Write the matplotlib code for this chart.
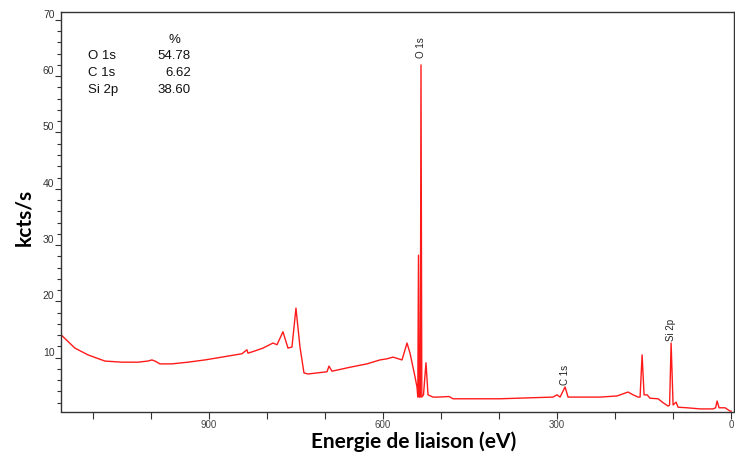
import matplotlib
matplotlib.use("Agg")
import matplotlib.pyplot as plt
from matplotlib.ticker import MultipleLocator, FixedLocator

# Binding energy (eV) and intensity (kcts/s)
energy = [1154.3, 1131.0, 1108.6, 1079.3, 1050.0, 1022.4, 1005.2, 998.3, 993.1, 984.5,
          963.8, 936.2, 906.9, 877.6, 843.1, 834.5, 832.7, 820.7, 806.9, 789.6,
          782.7, 772.4, 763.8, 756.9, 750.0, 743.1, 736.2, 729.3, 696.5, 693.1,
          687.9, 656.9, 627.6, 605.2, 593.1, 582.7, 567.2, 558.6, 553.4, 548.3,
          544.8, 541.4, 540.0, 538.8, 537.4, 535.7, 534.5, 533.1, 530.2, 525.9,
          522.4, 513.8, 505.2, 486.2, 479.3, 398.3, 306.9, 300.0, 294.8, 286.2,
          281.0, 225.9, 196.6, 177.6, 169.0, 160.3, 156.9, 153.4, 150.0, 144.8,
          139.7, 125.9, 117.2, 108.6, 106.0, 103.4, 100.0, 94.8, 91.4, 75.9,
          53.4, 31.0, 26.7, 24.1, 20.7, 10.3, 1.7, 0.0]
kcts = [14.0, 11.7, 10.5, 9.4, 9.2, 9.2, 9.4, 9.6, 9.4, 8.9,
        8.9, 9.2, 9.6, 10.1, 10.7, 11.4, 10.8, 11.2, 11.7, 12.6,
        12.3, 14.6, 11.7, 11.9, 18.8, 11.9, 7.3, 7.1, 7.5, 8.5,
        7.6, 8.3, 8.9, 9.6, 9.8, 10.1, 9.6, 12.6, 10.8, 8.3,
        6.6, 4.8, 3.0, 28.2, 3.0, 3.0, 62.0, 3.0, 3.4, 9.1,
        3.4, 3.0, 3.0, 3.1, 2.7, 2.7, 3.0, 3.4, 3.0, 4.8,
        3.0, 3.0, 3.2, 3.9, 3.4, 3.0, 3.0, 10.5, 3.4, 3.4,
        2.8, 2.7, 2.0, 1.4, 1.6, 12.6, 1.6, 2.1, 1.2, 1.1,
        0.9, 0.9, 1.1, 2.3, 1.1, 1.1, 0.5, 0.5]

peak_names = ["O 1s", "C 1s", "Si 2p"]
peak_energy = [534.5, 286.2, 103.4]
peak_label_y = [63.3, 5.2, 13.0]
atomic_pct = ["54.78", "6.62", "38.60"]

x_ticks = [900, 600, 300, 0]
y_ticks = [10, 20, 30, 40, 50, 60, 70]

fig = plt.figure(figsize=(7.35, 4.54), dpi=100)
ax = fig.add_axes([61.4 / 735, 1 - 411.5 / 454, (734 - 61.4) / 735, (411.5 - 12) / 454])

ax.plot(energy, kcts, color="#ff1a1a", lw=1.0)
ax.set_xlim(1154.3, -5)
ax.set_ylim(0.44, 71.4)

ax.xaxis.set_major_locator(FixedLocator(x_ticks))
ax.xaxis.set_minor_locator(MultipleLocator(100))
ax.yaxis.set_major_locator(FixedLocator(y_ticks))
ax.yaxis.set_minor_locator(MultipleLocator(2))
ax.tick_params(axis="both", which="both", direction="out", color="#333333", width=0.8)
ax.tick_params(axis="x", which="major", length=5, labelsize=7, labelcolor="#444444", pad=1)
ax.tick_params(axis="x", which="minor", length=5)
ax.tick_params(axis="y", which="major", length=4, labelsize=7.5, labelcolor="#333333", pad=1)
ax.tick_params(axis="y", which="minor", length=3)
for lab in ax.get_xticklabels() + ax.get_yticklabels():
    lab.set_fontfamily("Liberation Sans")
for lab in ax.get_yticklabels():
    lab.set_verticalalignment("bottom")

for s in ax.spines.values():
    s.set_color("#333333")
    s.set_linewidth(1.0)

ax.set_xlabel("Energie de liaison (eV)", fontsize=15, fontweight="bold", family="Lato")
ax.xaxis.set_label_coords((414 - 61.4) / 672.6, (411.5 - 431.5) / 399.5)
ax.set_ylabel("kcts/s", fontsize=15, fontweight="bold", family="Lato")
ax.yaxis.set_label_coords(-(61.4 - 34) / 672.6, (411.5 - 217) / 399.5)

for name, e, y in zip(peak_names, peak_energy, peak_label_y):
    ax.text(e, y, name, rotation=90, ha="center", va="bottom", fontsize=7,
            family="Liberation Sans", color="#222222")

fig.text(174 / 735, 1 - 40 / 454, "%", ha="center", va="center", fontsize=9.5,
         family="Liberation Sans", color="#111111")
for i, (name, pct) in enumerate(zip(peak_names, atomic_pct)):
    yy = 1 - (56 + 17 * i) / 454
    fig.text(88 / 735, yy, name, ha="left", va="center", fontsize=9.5,
             family="Liberation Sans", color="#111111")
    fig.text(191 / 735, yy, pct, ha="right", va="center", fontsize=9.5,
             family="Liberation Sans", color="#111111")

fig.savefig("out.png", dpi=100)
